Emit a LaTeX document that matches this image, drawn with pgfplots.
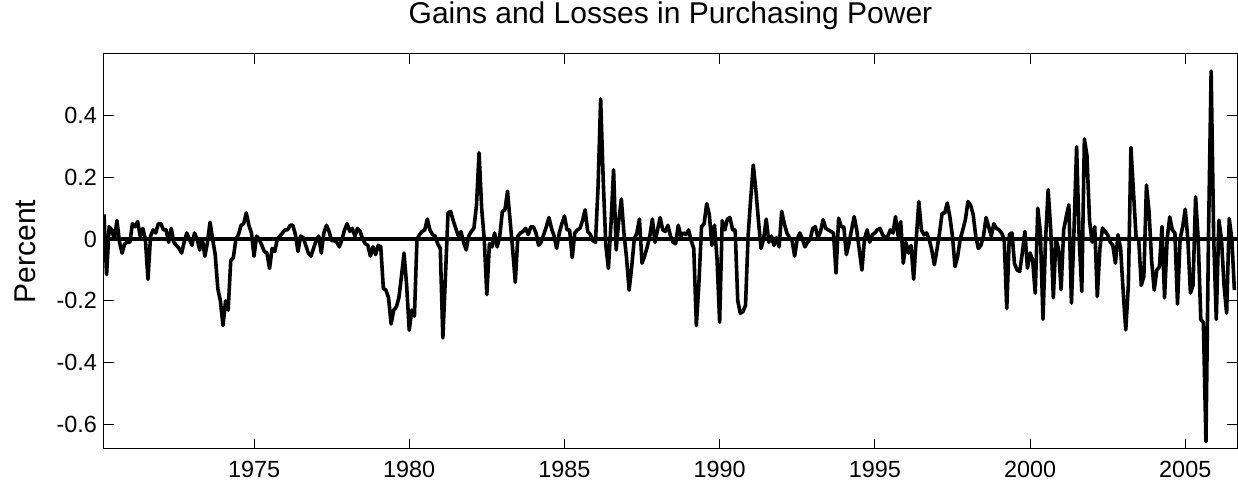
\documentclass[border=0pt]{standalone}
\usepackage{fontspec}
\setmainfont{Liberation Sans}
\usepackage{pgfplots}
\pgfplotsset{compat=1.18}
\usepackage{pgfplotstable}

% monthly values, first row starts March 1970
\pgfplotstableread[row sep=\\]{
y\\
0.08\\ -0.115\\ 0.04\\ 0.03\\ 0.0\\ 0.06\\ -0.01\\ -0.045\\ -0.015\\ -0.01\\ -0.01\\ 0.05\\
0.04\\ 0.057\\ 0.01\\ 0.035\\ 0.0\\ -0.13\\ 0.01\\ 0.03\\ 0.02\\ 0.05\\ 0.05\\ 0.03\\
0.03\\ -0.01\\ 0.035\\ -0.01\\ -0.02\\ -0.03\\ -0.045\\ -0.01\\ 0.02\\ 0.0\\ -0.02\\ 0.02\\
0.0\\ -0.035\\ 0.0\\ -0.055\\ -0.01\\ 0.055\\ 0.0\\ -0.05\\ -0.16\\ -0.2\\ -0.28\\ -0.2\\
-0.23\\ -0.07\\ -0.06\\ 0.0\\ 0.015\\ 0.045\\ 0.05\\ 0.085\\ 0.045\\ 0.02\\ -0.055\\ 0.01\\
0.0\\ -0.02\\ -0.04\\ -0.045\\ -0.095\\ -0.03\\ -0.04\\ 0.0\\ 0.01\\ 0.02\\ 0.03\\ 0.03\\
0.045\\ 0.045\\ 0.015\\ -0.04\\ 0.01\\ 0.005\\ -0.02\\ -0.045\\ -0.055\\ -0.03\\ -0.005\\ 0.01\\
-0.045\\ 0.02\\ 0.045\\ 0.025\\ -0.005\\ -0.005\\ -0.01\\ -0.025\\ 0.0\\ 0.03\\ 0.05\\ 0.025\\
0.035\\ 0.01\\ 0.035\\ 0.025\\ 0.0\\ -0.015\\ -0.02\\ -0.055\\ -0.025\\ -0.05\\ -0.02\\ -0.025\\
-0.16\\ -0.165\\ -0.19\\ -0.275\\ -0.23\\ -0.22\\ -0.19\\ -0.12\\ -0.045\\ -0.15\\ -0.295\\ -0.23\\
-0.25\\ 0.0\\ 0.015\\ 0.025\\ 0.03\\ 0.065\\ 0.03\\ 0.015\\ 0.01\\ -0.015\\ -0.03\\ -0.32\\
-0.12\\ 0.085\\ 0.09\\ 0.06\\ 0.035\\ 0.01\\ 0.025\\ -0.01\\ -0.035\\ 0.01\\ 0.025\\ 0.035\\
0.11\\ 0.28\\ 0.1\\ 0.0\\ -0.18\\ -0.015\\ -0.025\\ 0.02\\ -0.025\\ 0.01\\ 0.09\\ 0.095\\
0.155\\ 0.06\\ -0.035\\ -0.14\\ 0.01\\ 0.02\\ 0.025\\ 0.035\\ 0.015\\ 0.04\\ 0.04\\ 0.02\\
-0.02\\ -0.01\\ 0.015\\ 0.04\\ 0.07\\ 0.035\\ 0.01\\ -0.03\\ 0.02\\ 0.05\\ 0.075\\ 0.03\\
0.03\\ -0.06\\ 0.02\\ 0.03\\ 0.035\\ 0.06\\ 0.095\\ 0.025\\ 0.015\\ -0.005\\ -0.01\\ 0.17\\
0.455\\ 0.19\\ -0.02\\ -0.095\\ 0.05\\ 0.225\\ -0.035\\ 0.06\\ 0.13\\ 0.02\\ -0.06\\ -0.165\\
-0.09\\ 0.0\\ 0.02\\ 0.065\\ -0.078\\ -0.055\\ -0.025\\ 0.01\\ 0.065\\ -0.01\\ 0.03\\ 0.07\\
0.03\\ 0.025\\ 0.045\\ 0.01\\ -0.01\\ -0.015\\ 0.045\\ 0.01\\ 0.02\\ 0.015\\ 0.03\\ -0.005\\
-0.03\\ -0.28\\ -0.14\\ 0.04\\ 0.05\\ 0.115\\ 0.08\\ -0.02\\ 0.045\\ -0.065\\ -0.27\\ 0.06\\
0.03\\ 0.065\\ 0.07\\ 0.03\\ 0.03\\ -0.2\\ -0.24\\ -0.235\\ -0.215\\ 0.01\\ 0.13\\ 0.24\\
0.16\\ 0.06\\ -0.03\\ 0.0\\ 0.065\\ -0.01\\ 0.01\\ -0.02\\ 0.005\\ -0.025\\ 0.09\\ 0.05\\
0.02\\ 0.005\\ -0.005\\ -0.055\\ 0.0\\ 0.02\\ 0.0\\ -0.025\\ -0.01\\ 0.0\\ 0.035\\ 0.04\\
0.005\\ 0.025\\ 0.063\\ 0.035\\ 0.03\\ 0.025\\ 0.02\\ -0.11\\ 0.068\\ 0.04\\ 0.04\\ -0.05\\
-0.013\\ 0.03\\ 0.073\\ 0.03\\ -0.035\\ -0.1\\ 0.0\\ 0.03\\ -0.01\\ 0.014\\ 0.02\\ 0.03\\
0.035\\ 0.014\\ 0.003\\ 0.01\\ 0.03\\ 0.02\\ 0.073\\ 0.01\\ 0.057\\ -0.078\\ -0.01\\ -0.045\\
-0.02\\ -0.13\\ 0.0\\ 0.122\\ 0.03\\ 0.014\\ 0.02\\ 0.0\\ -0.035\\ -0.083\\ -0.035\\ 0.02\\
0.084\\ 0.084\\ 0.117\\ 0.073\\ 0.01\\ -0.089\\ -0.056\\ 0.0\\ 0.03\\ 0.063\\ 0.122\\ 0.11\\
0.08\\ 0.01\\ -0.03\\ -0.02\\ 0.01\\ 0.07\\ 0.04\\ 0.01\\ 0.05\\ 0.035\\ 0.03\\ 0.02\\
0.0\\ -0.225\\ 0.015\\ 0.02\\ -0.08\\ -0.1\\ -0.105\\ -0.045\\ 0.025\\ -0.094\\ -0.045\\ -0.067\\
-0.175\\ 0.1\\ 0.02\\ -0.26\\ 0.0\\ 0.16\\ 0.03\\ -0.19\\ 0.0\\ -0.03\\ -0.164\\ 0.03\\
0.073\\ 0.111\\ -0.207\\ 0.03\\ 0.3\\ 0.0\\ -0.17\\ 0.325\\ 0.27\\ 0.06\\ -0.01\\ 0.04\\
-0.186\\ -0.03\\ 0.036\\ 0.025\\ 0.014\\ -0.01\\ -0.02\\ -0.078\\ 0.014\\ -0.03\\ -0.17\\ -0.294\\
-0.15\\ 0.297\\ 0.15\\ 0.005\\ 0.0\\ -0.15\\ -0.12\\ 0.175\\ 0.09\\ -0.07\\ -0.165\\ -0.1\\
-0.09\\ 0.04\\ -0.19\\ 0.0\\ 0.072\\ 0.03\\ 0.02\\ -0.21\\ 0.0\\ 0.04\\ 0.097\\ 0.0\\
-0.175\\ -0.15\\ 0.137\\ 0.0\\ -0.26\\ -0.27\\ -0.656\\ 0.02\\ 0.545\\ 0.0\\ -0.26\\ 0.062\\
0.0\\ -0.15\\ -0.24\\ 0.067\\ 0.0\\ -0.165\\
}\gains

\begin{document}
\begin{tikzpicture}
\begin{axis}[
  at={(0,0)}, anchor=south west,
  scale only axis, width=566.5pt, height=197.5pt,
  xmin=1970.1667, xmax=2006.6667, ymin=-0.68, ymax=0.6,
  xtick={1975,1980,1985,1990,1995,2000,2005},
  xticklabels={1975,1980,1985,1990,1995,2000,2005},
  ytick={-0.6,-0.4,-0.2,0,0.2,0.4},
  yticklabels={-0.6,-0.4,-0.2,0,0.2,0.4},
  tick align=inside, major tick length=5pt,
  axis line style={line width=0.5pt},
  tick style={line width=0.5pt, black},
  ticklabel style={font=\fontsize{11.7}{14}\selectfont},
  xticklabel style={yshift=-2.4pt},
  title={Gains and Losses in Purchasing Power},
  title style={font=\fontsize{15}{18}\selectfont, at={(0.5,1)}, anchor=base, yshift=9pt},
  ylabel={Percent},
  ylabel style={font=\fontsize{15}{18}\selectfont, at={(axis description cs:-0.0609,0.5)}, anchor=base, rotate=0},
]
\addplot[black, line width=1.8pt, line join=round, no marks]
  table[x expr={1970.16667+\coordindex/12}, y=y] {\gains};
\addplot[black, line width=1.8pt, no marks] coordinates {(1970,0) (2007,0)};
\end{axis}
\pgfresetboundingbox
\path[use as bounding box] (-52pt,-19pt) rectangle (567pt,224.5pt);
\end{tikzpicture}
\end{document}
